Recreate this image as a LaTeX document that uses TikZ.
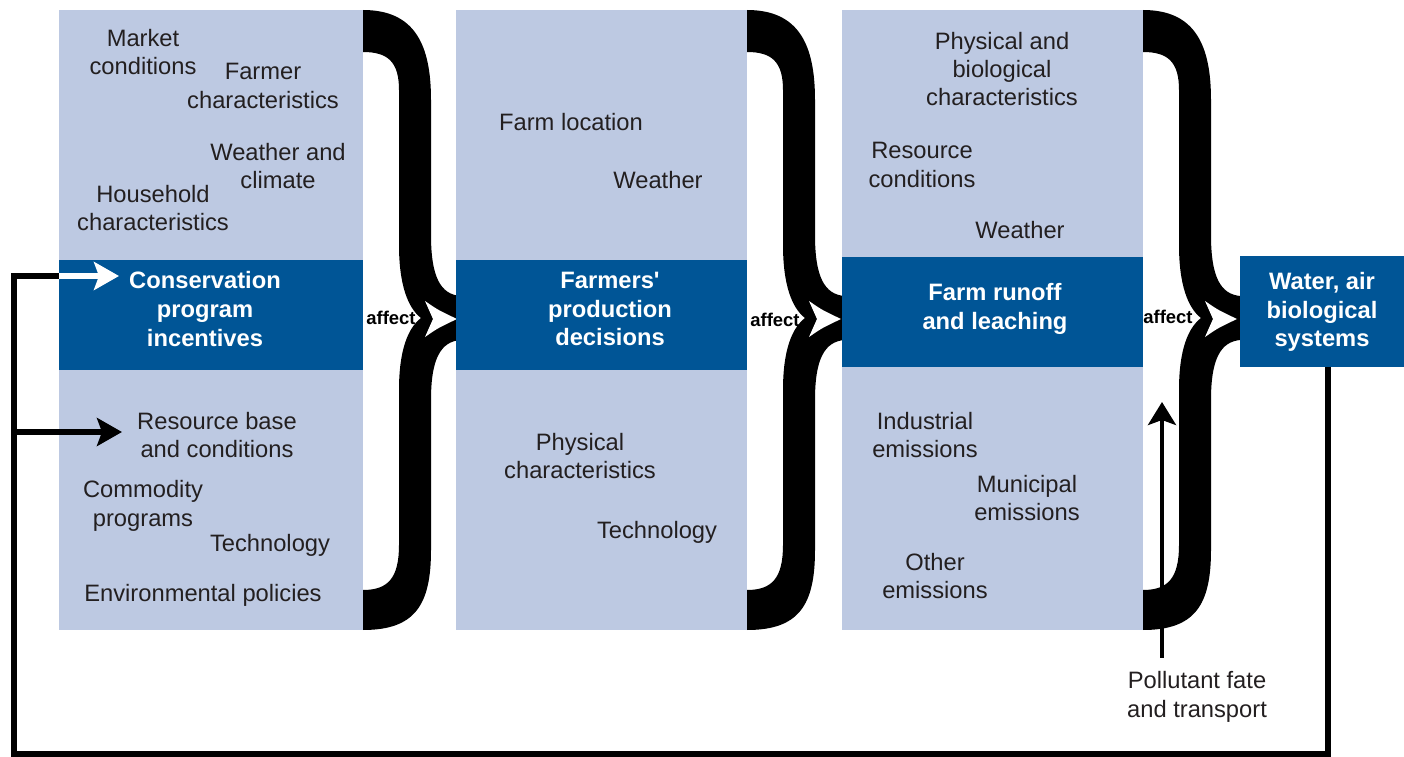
\documentclass[tikz,border=0pt]{standalone}
\usepackage{fontspec}
\setmainfont{Liberation Sans}
\usetikzlibrary{arrows.meta, calc}

\definecolor{paleblue}{RGB}{189,201,226}
\definecolor{deepblue}{RGB}{0,85,150}
\definecolor{ink}{RGB}{35,31,32}

\begin{document}
\begin{tikzpicture}[
  x=0.02cm, y=-0.02cm,
  panel/.style={rectangle, fill=paleblue, inner sep=0pt, outer sep=0pt},
  band/.style={rectangle, fill=deepblue, inner sep=0pt, outer sep=0pt},
  title/.style={align=center, inner sep=0pt, text=white, font=\fontsize{13.5}{16.4}\selectfont\bfseries},
  factor/.style={align=center, inner sep=0pt, text=ink, font=\fontsize{13.5}{16.2}\selectfont},
  affect/.style={inner sep=0pt, font=\fontsize{10.5}{12}\selectfont\bfseries},
  loopline/.style={line width=0.12cm},
  rise/.style={line width=0.08cm, -{Stealth[length=0.46cm, width=0.56cm, inset=0.1cm]}}
]
\useasboundingbox (0,0) rectangle (1404,757);

% Braces
\foreach \bx in {363,747,1143} {
  \fill[black, shift={(\bx,0)}] (0,10) .. controls (52,10) and (68,45) .. (68,100)
    -- (68,235) .. controls (68,278) and (78,294) .. (97,296)
    -- (97,340) .. controls (78,342) and (68,358) .. (68,400)
    -- (68,550) .. controls (68,605) and (52,630) .. (0,630)
    -- (0,590) .. controls (25,590) and (36,578) .. (36,545)
    -- (36,390) .. controls (36,350) and (45,328) .. (58,318)
    .. controls (45,308) and (36,285) .. (36,245)
    -- (36,90) .. controls (36,62) and (25,52) .. (0,52) -- cycle;
  \fill[white, shift={(\bx,0)}] (62,301) .. controls (75,310) .. (94,319)
    .. controls (75,328) .. (62,337) -- (70,319) -- cycle;
}

% Panels
\node[panel, minimum width=6.08cm, minimum height=12.4cm] (col-a) at (211,320) {};
\node[panel, minimum width=5.82cm, minimum height=12.4cm] (col-b) at (601.5,320) {};
\node[panel, minimum width=6.02cm, minimum height=12.4cm] (col-c) at (992.5,320) {};

\node[band, minimum width=6.08cm, minimum height=2.2cm] (cons) at (211,315) {};
\node[band, minimum width=5.82cm, minimum height=2.2cm] (prod) at (601.5,315) {};
\node[band, minimum width=6.02cm, minimum height=2.2cm] (runoff) at (992.5,312) {};
\node[band, minimum width=3.28cm, minimum height=2.22cm] (sys) at (1322,311.5) {};

% Titles
\node[title] (cons-t) at (205,309) {Conservation\\program\\incentives};
\node[title] (prod-t) at (610,309) {Farmers\textquotesingle\\production\\decisions};
\node[title] (runoff-t) at (995,309) {Farm runoff\\and leaching};
\node[title] (sys-t) at (1322,312) {Water, air\\biological\\systems};

% Affect labels
\node[affect] (aff-a) at (391,318) {affect};
\node[affect] (aff-b) at (775,320) {affect};
\node[affect] (aff-c) at (1168,317) {affect};

% Factors, first column
\node[factor] (mkt) at (143,52) {Market\\conditions};
\node[factor] (farmer) at (263,86) {Farmer\\characteristics};
\node[factor] (climate) at (278,166) {Weather and\\climate};
\node[factor] (house) at (153,208) {Household\\characteristics};
\node[factor] (resbase) at (217,435) {Resource base\\and conditions};
\node[factor] (commod) at (143,506) {Commodity\\programs};
\node[factor] (tech-a) at (270,545) {Technology};
\node[factor] (envpol) at (203,595) {Environmental policies};

% Factors, second column
\node[factor] (loc) at (571,122) {Farm location};
\node[factor] (wx-b) at (658,180) {Weather};
\node[factor] (phys-b) at (580,456) {Physical\\characteristics};
\node[factor] (tech-b) at (657,532) {Technology};

% Factors, third column
\node[factor] (physbio) at (1002,69) {Physical and\\biological\\characteristics};
\node[factor] (rescond) at (922,165) {Resource\\conditions};
\node[factor] (wx-c) at (1020,230) {Weather};
\node[factor] (indus) at (925,435) {Industrial\\emissions};
\node[factor] (munic) at (1027,498) {Municipal\\emissions};
\node[factor] (other) at (935,576) {Other\\emissions};

% Pollutant fate
\node[factor, outer sep=0.28cm] (fate) at (1197,697) {Pollutant fate\\and transport};
\coordinate (fate-tip) at (1162,402);
\draw[rise] (fate-tip |- fate.north) -- (fate-tip);

% Feedback loop
\coordinate (fb-in) at (59,276);
\coordinate (fb-tip) at (119,276);
\coordinate (fb-split) at (14,432);
\coordinate (fb-res) at (122,432);
\draw[loopline] ([xshift=0.11cm]sys.south) |- (14,754) -- (fb-split) |- (fb-in);
\draw[loopline, white, -{Stealth[length=0.5cm, width=0.56cm, inset=0.1cm]}] (fb-in) -- (fb-tip);
\draw[loopline, -{Stealth[length=0.5cm, width=0.56cm, inset=0.1cm]}] (fb-split) -- (fb-res);

\end{tikzpicture}
\end{document}
